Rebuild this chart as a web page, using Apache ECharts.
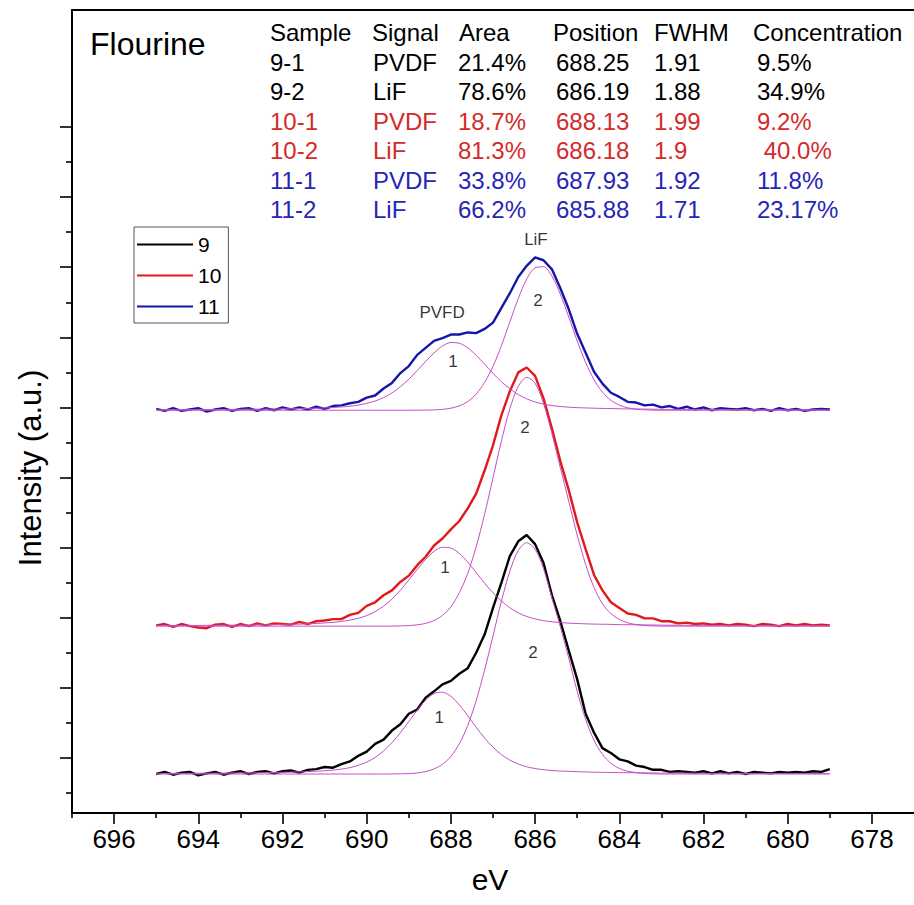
<!DOCTYPE html>
<html><head><meta charset="utf-8">
<script src="https://cdn.jsdelivr.net/npm/echarts@6/dist/echarts.min.js"></script>
<style>html,body{margin:0;padding:0;background:#fff}#c{width:914px;height:905px}</style>
</head><body><div id="c"></div>
<script>
// Binding energy grid (eV)
const energy = [695.0,694.8,694.6,694.4,694.2,694.0,693.8,693.6,693.4,693.2,693.0,692.8,692.6,692.4,692.2,692.0,691.8,691.6,691.4,691.2,691.0,690.8,690.6,690.4,690.2,690.0,689.8,689.6,689.4,689.2,689.0,688.8,688.6,688.4,688.2,688.0,687.8,687.6,687.4,687.2,687.0,686.8,686.6,686.4,686.2,686.0,685.8,685.6,685.4,685.2,685.0,684.8,684.6,684.4,684.2,684.0,683.8,683.6,683.4,683.2,683.0,682.8,682.6,682.4,682.2,682.0,681.8,681.6,681.4,681.2,681.0,680.8,680.6,680.4,680.2,680.0,679.8,679.6,679.4,679.2,679.0];
// vertical stacking offsets of samples 9, 10, 11
const baselines = [77, 288, 596];
// measured spectra (intensity above own baseline)
const spec9 = [0,3,-1,2,3,-2,1,3,-1,2, 4,0,3,4,1,4,5,2,6,7, 10,9,14,18,26,32,43,49,62,71, 86,92,109,118,128,133,143,151,173,199, 237,273,311,332,341,328,301,255,218,176, 135,86,59,37,30,21,18,12,10,6, 6,3,4,3,2,4,1,4,1,3, 0,3,2,1,3,2,3,2,4,3, 7];
const spec10 = [1,3,-1,3,0,-2,-3,2,3,-1, 3,0,4,1,4,3,2,6,3,7, 8,10,10,16,19,29,34,44,51,63, 72,87,99,115,125,138,150,168,189,222, 258,301,335,362,369,357,325,282,235,194, 148,110,73,51,34,26,18,16,11,11, 7,7,4,5,3,4,2,3,1,3, 2,0,3,2,0,3,1,3,1,2, 1];
const spec11 = [2,-1,3,-1,1,3,-2,1,3,-1, 2,3,-1,3,0,4,1,4,1,5, 2,6,7,10,12,18,21,31,39,53, 63,79,89,99,103,108,108,111,110,116, 125,146,167,190,206,218,214,201,174,144, 109,82,55,38,25,19,12,11,7,8, 4,6,2,5,1,4,0,3,2,1, 3,0,2,-1,3,0,2,-1,1,2, 1];
// fitted components (1 = PVDF, 2 = LiF)
const fit9_1 = [0.8,0.9,0.9,1.0,1.0,1.1,1.2,1.2,1.3,1.4, 1.5,1.7,1.8,2.0,2.2,2.5,2.7,3.0,3.5,4.0, 4.7,5.6,7.0,9.1,12.4,17.0,23.6,32.9,44.8,58.9, 74.9,91.1,105.4,114.8,116.8,110.8,98.6,83.2,66.7,51.4, 38.3,27.7,19.9,14.3,10.4,7.8,6.2,5.0,4.3,3.8, 3.3,3.0,2.6,2.4,2.2,2.0,1.9,1.8,1.7,1.5, 1.4,1.3,1.3,1.2,1.2,1.1,1.0,1.0,1.0,0.9, 0.9,0.8,0.8,0.8,0.7,0.7,0.7,0.7,0.6,0.6, 0.6];
const fit9_2 = [0,0,0,0,0,0,0,0,0,0, 0,0,0,0,0,0,0,0,0,0, 0,0,0,0,0,0,0,0,0.1,0.3, 0.7,1.5,3.5,7.3,13.9,25.2,43.2,69.3,104.6,148.2, 197.0,246.5,289.4,318.8,330.0,320.8,293.0,251.1,210.0,165.0, 118.0,78.0,48.0,28.0,15.5,8.0,4.0,2.0,0.8,0.3, 0,0,0,0,0,0,0,0,0,0, 0,0,0,0,0,0,0,0,0,0, 0];
const fit10_1 = [0.8,0.8,0.9,0.9,1.0,1.0,1.1,1.2,1.2,1.3, 1.4,1.5,1.7,1.9,2.1,2.5,2.7,2.9,3.3,3.8, 4.5,5.4,6.7,8.6,11.2,15.0,20.7,28.5,38.6,51.2, 65.8,80.9,95.1,106.7,112.5,111.4,103.7,91.3,76.5,61.2, 47.5,35.9,26.1,19.0,13.8,10.3,7.8,6.2,5.1,4.3, 3.7,3.3,2.9,2.7,2.5,2.1,2.0,1.9,1.7,1.6, 1.4,1.3,1.3,1.2,1.1,1.1,1.0,1.0,0.9,0.9, 0.8,0.8,0.8,0.7,0.7,0.7,0.6,0.6,0.6,0.6, 0.5];
const fit10_2 = [0,0,0,0,0,0,0,0,0,0, 0,0,0,0,0,0,0,0,0,0, 0,0,0,0,0,0,0,0,0.1,0.3, 0.8,1.8,3.9,8.0,15.3,27.7,47.6,75.3,113.2,159.4, 211.6,264.1,309.9,341.9,355.0,346.5,317.7,274.4,226.0,178.0, 130.0,88.0,55.0,32.0,18.0,9.5,4.7,2.2,0.9,0.4, 0,0,0,0,0,0,0,0,0,0, 0,0,0,0,0,0,0,0,0,0, 0];
const fit11_1 = [0.7,0.7,0.8,0.8,0.9,0.9,1.0,1.0,1.1,1.2, 1.3,1.4,1.5,1.6,1.7,1.9,2.1,2.3,2.6,2.9, 3.3,3.9,4.7,5.7,7.4,9.8,13.2,18.0,24.7,33.6, 44.2,56.6,69.6,81.8,91.6,96.6,95.6,89.0,78.4,65.7, 52.6,40.7,30.8,22.4,16.3,11.8,8.8,6.7,5.3,4.4, 3.7,3.3,2.9,2.6,2.4,2.1,1.9,1.8,1.6,1.5, 1.3,1.2,1.2,1.1,1.0,0.9,0.9,0.8,0.8,0.7, 0.7,0.7,0.6,0.6,0.6,0.5,0.5,0.5,0.5,0.4, 0.4];
const fit11_2 = [0,0,0,0,0,0,0,0,0,0, 0,0,0,0,0,0,0,0,0,0, 0,0,0,0,0,0,0,0,0,0, 0,0.1,0.2,0.5,1.3,2.9,6.2,12.4,23.1,39.6, 62.6,92.2,126.0,159.4,187.1,203.3,204.7,191.4,165.6,132.9, 98.9,68.2,43.5,25.8,14.2,7.3,3.4,1.5,0.6,0.2, 0,0,0,0,0,0,0,0,0,0, 0,0,0,0,0,0,0,0,0,0, 0];
// axis ticks
const xTicksMajor = [678,680,682,684,686,688,690,692,694,696];
const xTicksMinor = [679,681,683,685,687,689,691,693,695,697];
const yTicksMajor = [100,200,300,400,500,600,700,800,900,1000];
const yTicksMinor = [50,150,250,350,450,550,650,750,850,950];
// legend names
const sampleNames = ['9','10','11'];
// table
const tableHeader = ['Sample','Signal','Area','Position','FWHM','Concentration'];
const tableRows = [
  ['9-1','PVDF','21.4%','688.25','1.91','9.5%'],
  ['9-2','LiF','78.6%','686.19','1.88','34.9%'],
  ['10-1','PVDF','18.7%','688.13','1.99','9.2%'],
  ['10-2','LiF','81.3%','686.18','1.9',' 40.0%'],
  ['11-1','PVDF','33.8%','687.93','1.92','11.8%'],
  ['11-2','LiF','66.2%','685.88','1.71','23.17%']
];
// peak annotations [text, eV, y]
const peakLabels = [['LiF',685.98,839],['PVFD',688.21,736],['1',687.95,665],['2',685.93,753],
  ['2',686.24,571],['1',688.14,371],['1',688.28,158],['2',686.05,250]];

const FONT = '"Liberation Sans", Arial, Helvetica, sans-serif';
const lineColors = ['#000000','#e01a1a','#1616a8'];
const fitColor = '#c64cc6';
const rowColors = ['#000000','#000000','#d42a2a','#d42a2a','#2626b4','#2626b4'];
const headerX = [270,372,459,553,654,753];
const cellX = [270,373,458,556,654,757];
const headerY = 32;
const rowY = [62,91.5,121,150.5,180,209];

function pts(vals, base){ return energy.map((e,i)=>[e, base+vals[i]]); }

const series = [];
const specs = [spec9, spec10, spec11];
specs.forEach((s,i)=>{
  series.push({type:'line', name:sampleNames[i], data:pts(s, baselines[i]), showSymbol:false, symbol:'none',
    color:lineColors[i], lineStyle:{color:lineColors[i], width:2.4}, itemStyle:{color:lineColors[i]}, z:2, silent:true});
});
const fits = [[fit9_1,fit9_2],[fit10_1,fit10_2],[fit11_1,fit11_2]];
fits.forEach((pair,i)=>{
  pair.forEach((f,j)=>{
    series.push({type:'line', name:sampleNames[i]+'-'+(j+1), data:pts(f, baselines[i]), showSymbol:false, symbol:'none',
      smooth:0.3, color:fitColor, lineStyle:{color:fitColor, width:1}, z:3, silent:true});
  });
});
series.push({type:'scatter', name:'labels', symbolSize:0, silent:true, z:5,
  data: peakLabels.map(p=>({name:p[0], value:[p[1],p[2]]})),
  label:{show:true, position:'inside', formatter:p=>p.name, fontSize:17, color:'#000', fontFamily:FONT}});

const graphic = [];
graphic.push({type:'text', x:90, y:44, style:{text:'Flourine', fontSize:32, fontFamily:FONT, fill:'#000', verticalAlign:'middle'}});
tableHeader.forEach((h,c)=>{
  graphic.push({type:'text', x:headerX[c], y:headerY, style:{text:h, fontSize:24, fontFamily:FONT, fill:'#000', verticalAlign:'middle'}});
});
tableRows.forEach((row,r)=>{
  row.forEach((cell,c)=>{
    graphic.push({type:'text', x:cellX[c], y:rowY[r], style:{text:cell, fontSize:24, fontFamily:FONT, fill:rowColors[r], verticalAlign:'middle'}});
  });
});
graphic.push({type:'text', x:490, y:879, style:{text:'eV', fontSize:30, fontFamily:FONT, fill:'#000', align:'center', verticalAlign:'middle'}});
graphic.push({type:'text', x:30, y:468, rotation:Math.PI/2, style:{text:'Intensity (a.u.)', fontSize:31, fontFamily:FONT, fill:'#000', align:'center', verticalAlign:'middle'}});

const chart = echarts.init(document.getElementById('c'), null, {renderer:'svg', width:914, height:905});
chart.setOption({
  animation:false,
  backgroundColor:'#fff',
  grid:{left:72, top:10, right:-9, bottom:92, containLabel:false},
  legend:{data:sampleNames, orient:'vertical', left:134, top:227, padding:[7,7,6,3], itemWidth:56, itemHeight:2,
    icon:'rect', itemGap:10, borderColor:'#555', borderWidth:1, selectedMode:false,
    textStyle:{fontSize:21, lineHeight:20, color:'#000', fontFamily:FONT}},
  xAxis:[
    {type:'value', min:677, max:697, inverse:true, position:'bottom',
      axisLine:{show:true, onZero:false, lineStyle:{color:'#000', width:2}},
      axisTick:{show:true, length:11, customValues:xTicksMajor, lineStyle:{color:'#000', width:1.6}},
      axisLabel:{show:true, customValues:xTicksMajor, fontSize:26, color:'#000', margin:13, fontFamily:FONT},
      splitLine:{show:false}},
    {type:'value', min:677, max:697, inverse:true, position:'bottom',
      axisLine:{show:false, onZero:false},
      axisTick:{show:true, length:5, customValues:xTicksMinor, lineStyle:{color:'#000', width:1.6}},
      axisLabel:{show:false}, splitLine:{show:false}},
    {type:'value', min:677, max:697, inverse:true, position:'top',
      axisLine:{show:true, onZero:false, lineStyle:{color:'#000', width:2}},
      axisTick:{show:false}, axisLabel:{show:false}, splitLine:{show:false}}
  ],
  yAxis:[
    {type:'value', min:21.4, max:1167, position:'left',
      axisLine:{show:true, onZero:false, lineStyle:{color:'#000', width:2}},
      axisTick:{show:true, length:12, customValues:yTicksMajor, lineStyle:{color:'#000', width:1.6}},
      axisLabel:{show:false}, splitLine:{show:false}},
    {type:'value', min:21.4, max:1167, position:'left',
      axisLine:{show:false, onZero:false},
      axisTick:{show:true, length:6, customValues:yTicksMinor, lineStyle:{color:'#000', width:1.6}},
      axisLabel:{show:false}, splitLine:{show:false}}
  ],
  series:series,
  graphic:graphic
});
</script></body></html>
